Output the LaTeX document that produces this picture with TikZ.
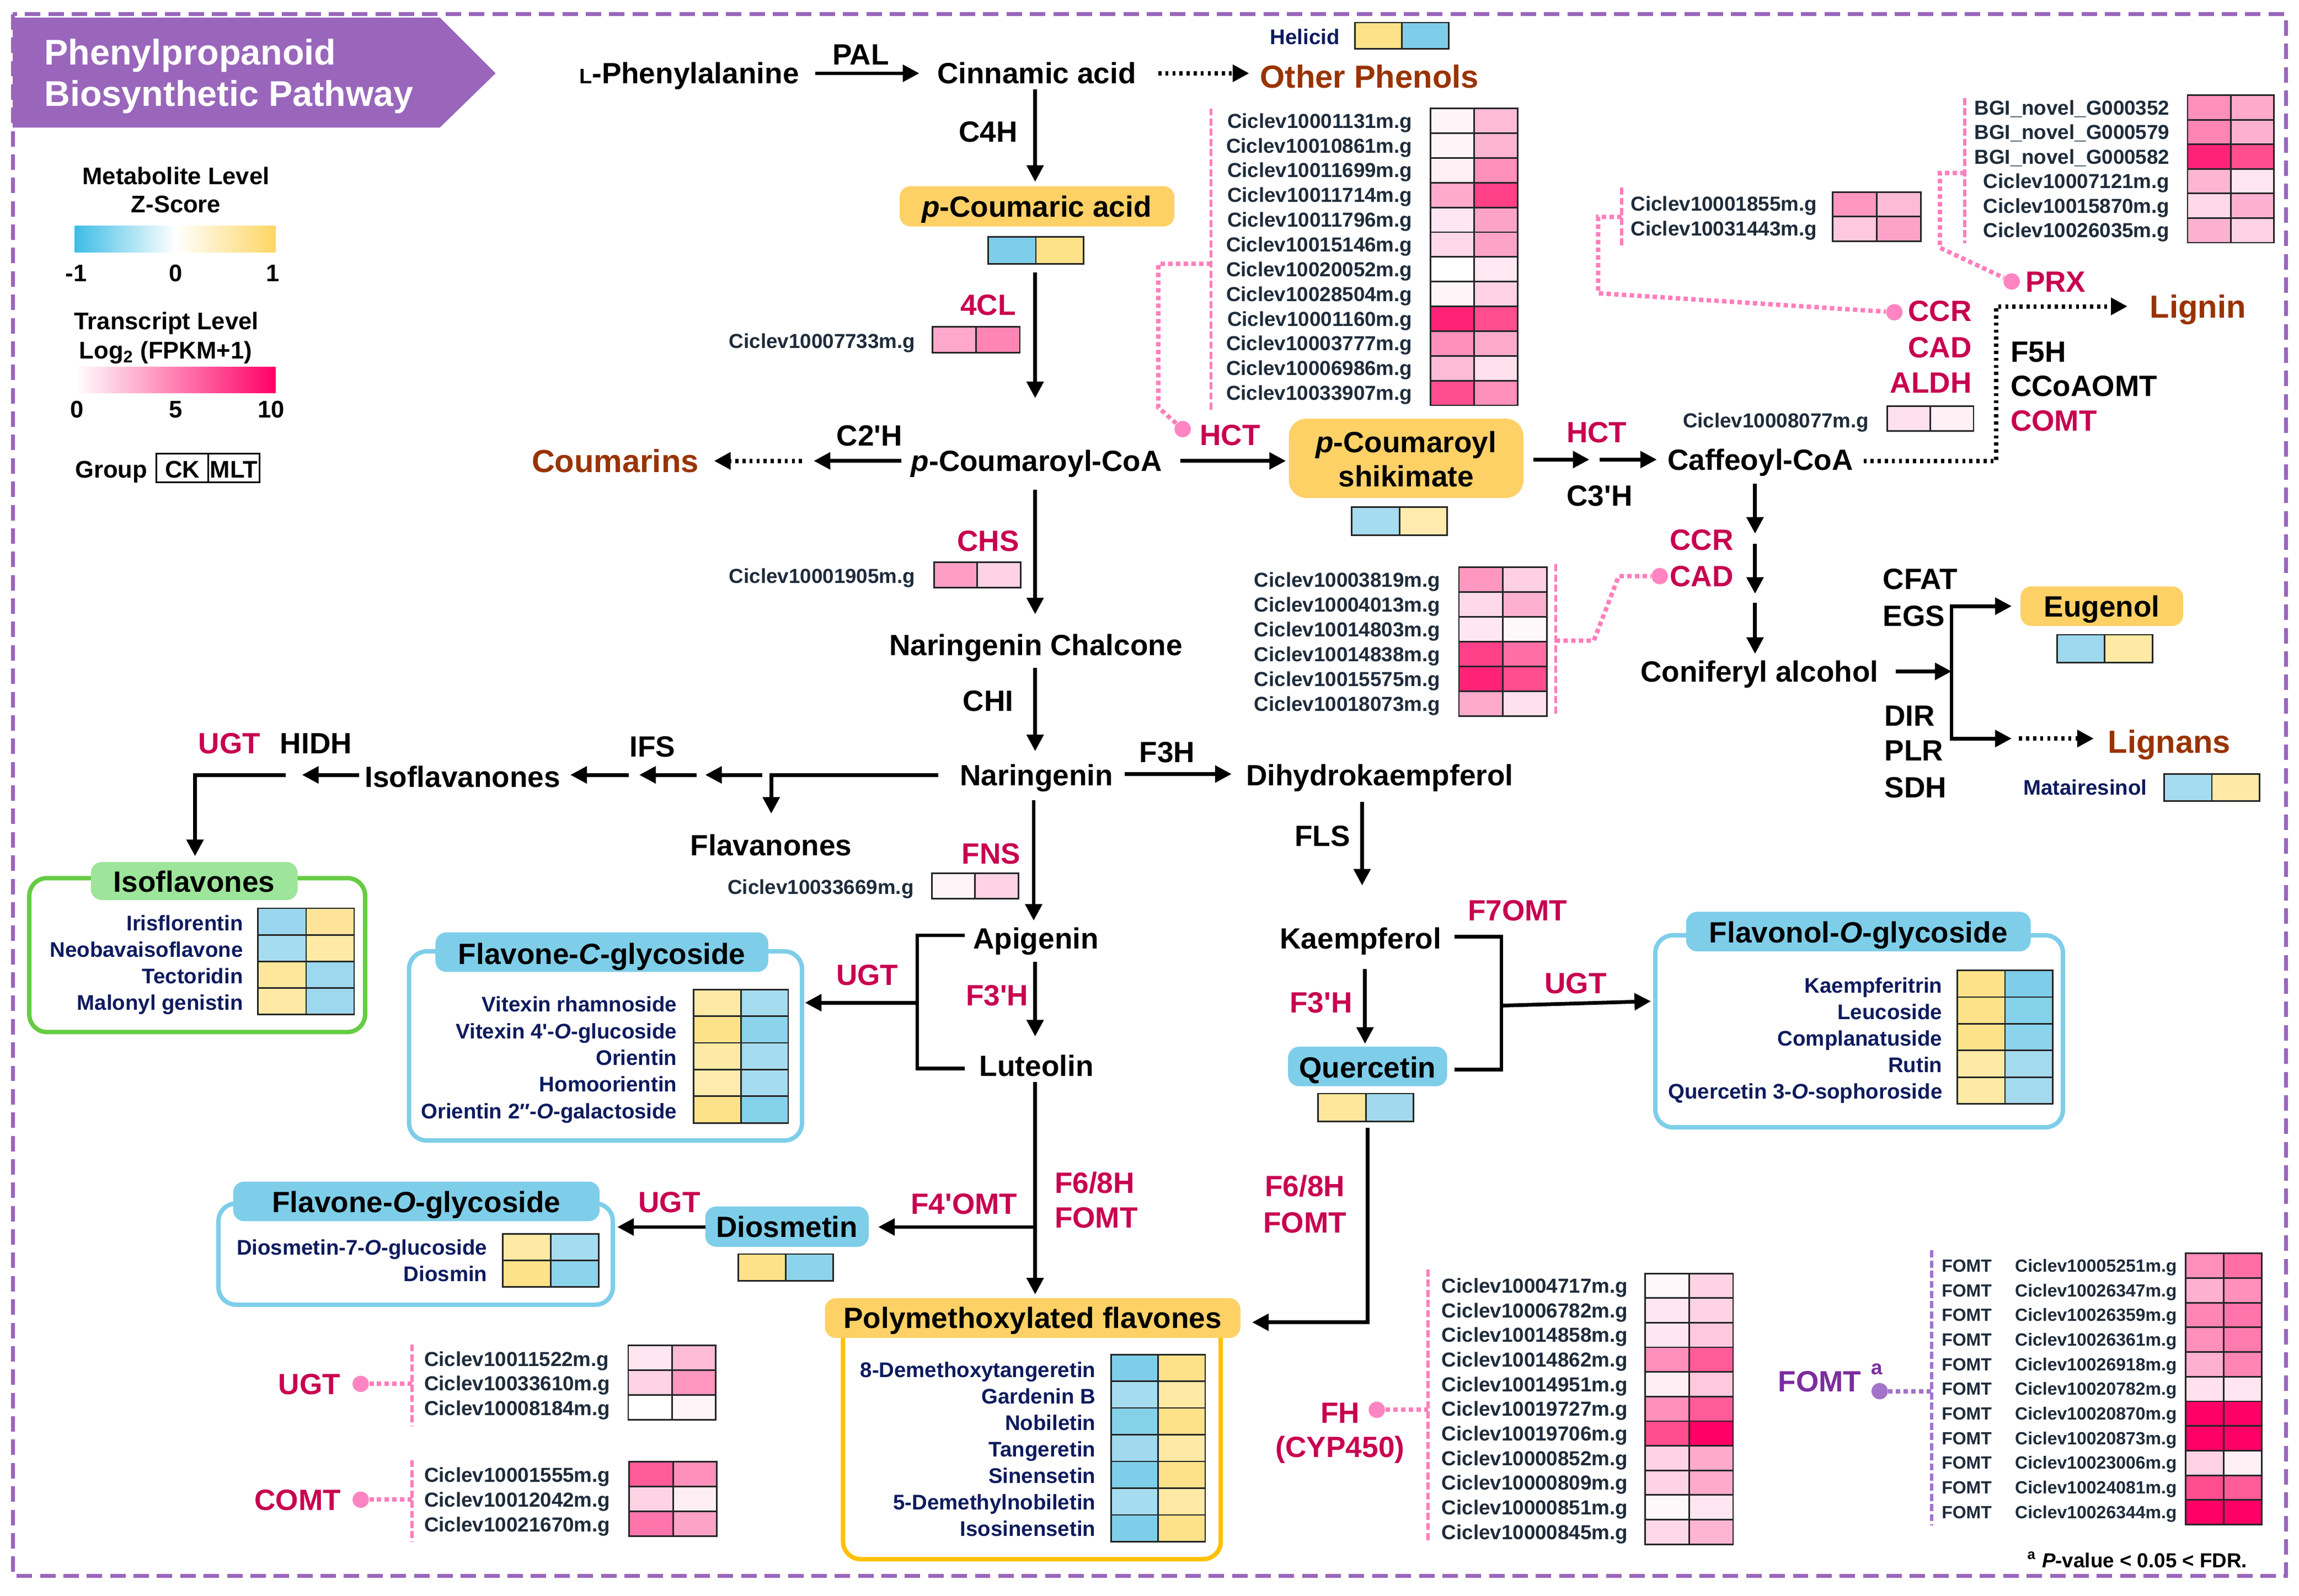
\documentclass[tikz,border=0pt]{standalone}
\usepackage{fontspec}
\setmainfont{Liberation Sans}
\usetikzlibrary{arrows.meta}
\definecolor{purp}{HTML}{9966BB}
\definecolor{redc}{HTML}{C80050}
\definecolor{brownc}{HTML}{993300}
\definecolor{navyc}{HTML}{0D1B5E}
\definecolor{genec}{HTML}{1E2B3A}
\definecolor{pinkc}{HTML}{FF7EBC}
\definecolor{pinkdot}{HTML}{FF85C2}
\definecolor{fompurp}{HTML}{7B2C9F}
\definecolor{fomdot}{HTML}{A373C9}
\definecolor{ybox}{HTML}{FDD166}
\definecolor{bbox}{HTML}{7ECEE9}
\definecolor{gtab}{HTML}{9DE59A}
\definecolor{gline}{HTML}{66CC44}
\definecolor{oline}{HTML}{FFC000}
\definecolor{zblue}{HTML}{3DBDE6}
\definecolor{zyel}{HTML}{FDD663}
\definecolor{tpink}{HTML}{FF0066}
\newcommand\fcomp{\fontsize{13.3pt}{15pt}\selectfont\bfseries}
\newcommand\fgene{\fontsize{9.2pt}{11pt}\selectfont\bfseries}
\newcommand\fgenes{\fontsize{8pt}{10pt}\selectfont\bfseries}
\newcommand\fmet{\fontsize{9.6pt}{11pt}\selectfont\bfseries}
\newcommand\fprod{\fontsize{14.5pt}{17pt}\selectfont\bfseries}
\newcommand\ftitle{\fontsize{16.2pt}{19pt}\selectfont\bfseries}
\newcommand\fleg{\fontsize{10.9pt}{13pt}\selectfont\bfseries}
\newcommand\ap{\textquotesingle}
\newcommand\hmrow[6]{%
  \edef\hmnext{\noexpand\definecolor{hmA}{HTML}{#5}\noexpand\definecolor{hmB}{HTML}{#6}}\hmnext
  \filldraw[fill=hmA, cellb] (#1,#2) rectangle ++(#3,#4);
  \filldraw[fill=hmB, cellb] (#1+#3,#2) rectangle ++(#3,#4);}
\begin{document}
\begin{tikzpicture}[x=0.665pt,y=-0.665pt,
 comp/.style={font=\fcomp, inner sep=0pt, text height=9.5pt, text depth=0pt},
 enz/.style={comp},
 enzr/.style={comp, text=redc},
 prod/.style={font=\fprod, text=brownc, inner sep=0pt, text height=10.4pt, text depth=0pt},
 gene/.style={font=\fgene, text=genec, inner sep=0pt, text height=6.6pt, text depth=0pt},
 genes/.style={font=\fgenes, text=genec, inner sep=0pt, text height=5.7pt, text depth=0pt},
 met/.style={font=\fmet, text=navyc, inner sep=0pt, text height=6.9pt, text depth=0pt},
 leg/.style={font=\fleg, inner sep=0pt, text height=7.8pt, text depth=0pt},
 ttl/.style={font=\ftitle, text=white, inner sep=0pt, text height=11.6pt, text depth=0pt},
 arr/.style={line width=1.7pt, -{Triangle[length=7.5pt,width=7.5pt]}},
 barr/.style={line width=1.7pt, {Triangle[length=7.5pt,width=7.5pt]}-{Triangle[length=7.5pt,width=7.5pt]}},
 ln/.style={line width=1.7pt},
 darr/.style={line width=2pt, dash pattern=on 1.4pt off 1.8pt, -{Triangle[length=7.5pt,width=7.5pt]}},
 pdot/.style={draw=pinkc, line width=2pt, dash pattern=on 2pt off 1.5pt},
 pbr/.style={draw=pinkc, line width=1.4pt, dash pattern=on 3.2pt off 1.4pt},
 fdot/.style={draw=fomdot, line width=2pt, dash pattern=on 2pt off 1.5pt},
 fbr/.style={draw=fomdot, line width=1.4pt, dash pattern=on 3.2pt off 1.4pt},
 dotn/.style={circle, fill=pinkdot, inner sep=0pt, minimum size=7.4pt},
 cellb/.style={draw=black!85, line width=0.7pt},
 bord/.style={draw=purp, line width=1.7pt, dash pattern=on 7pt off 3.6pt},
 grp/.style={line width=2pt, rounded corners=8pt},
]
\useasboundingbox (0,0) rectangle (1568,1088.7);
\fill[white] (0,0) rectangle (1568,1088.7);
% border and title
\draw[bord] (8.7,9.7) rectangle (1559,1075);
\fill[purp] (8.7,12) -- (300,12) -- (338,50) -- (300,87) -- (8.7,87) -- cycle;
\node[ttl, anchor=west] (t1) at (30,35.6) {Phenylpropanoid};
\node[ttl, anchor=west] (t2) at (30,63.8) {Biosynthetic Pathway};
% legend
\node[leg] (lm1) at (120,120) {Metabolite Level};
\node[leg] (lm2) at (120,139) {Z-Score};
\shade[left color=zblue, right color=zyel, middle color=white] (51,154) rectangle (188,172);
\node[leg] (lz1) at (52,186) {-1};
\node[leg] (lz2) at (120,186) {0};
\node[leg] (lz3) at (186,186) {1};
\node[leg] (lt1) at (113.5,219) {Transcript Level};
\node[leg] (lt2) at (113,239) {Log\textsubscript{2} (FPKM+1)};
\shade[left color=white, right color=tpink] (51,250.5) rectangle (188,268);
\node[leg] (lp1) at (52.6,279) {0};
\node[leg] (lp2) at (120,279) {5};
\node[leg] (lp3) at (185,279) {10};
\node[leg, anchor=west] (lg) at (51,320) {Group};
\draw[line width=0.8pt] (106.5,309.5) rectangle (177,329);
\draw[line width=0.8pt] (142,309.5) -- (142,329);
\node[leg] (ck) at (124.5,320) {CK};
\node[leg] (mlt) at (159.5,320) {MLT};

% ===== top row
\node[comp] (phe) at (470,50) {{\fontsize{9.5pt}{11pt}\selectfont L}-Phenylalanine};
\node[comp] (cin) at (707,50) {Cinnamic acid};
\node[enz] (pal) at (587,37) {PAL};
\coordinate (a1s) at (556,50); \coordinate (a1e) at (627,50);
\draw[arr] (a1s) -- (a1e);
\coordinate (a2s) at (790,50); \coordinate (a2e) at (852,50);
\draw[darr] (a2s) -- (a2e);
\node[prod] (oph) at (934,52) {Other Phenols};
\node[met] (heli) at (890,25) {Helicid};
\hmrow{924}{15.4}{32}{18}{FEE28A}{7ECEE9}
% C4H
\node[enz] (c4h) at (674,89.6) {C4H};
\coordinate (a3s) at (706,61); \coordinate (a3e) at (706,124);
\draw[arr] (a3s) -- (a3e);
\fill[ybox, rounded corners=5pt] (613.6,127) rectangle (801,154.5);
\node[comp] (pca) at (707,141) {\textit{p}-Coumaric acid};
\hmrow{674}{161.6}{32.5}{18.4}{7ECEE9}{FEE28A}
% 4CL
\node[enzr] (e4cl) at (674,208) {4CL};
\coordinate (a4s) at (706,186); \coordinate (a4e) at (706,271.6);
\draw[arr] (a4s) -- (a4e);
\node[gene, anchor=east] (g7733) at (624.5,232.6) {Ciclev10007733m.g};
\hmrow{636}{223}{29.8}{17.5}{FFA8CC}{FF85B5}
% p-Coumaroyl-CoA
\node[comp] (pcc) at (707,314.4) {\textit{p}-Coumaroyl-CoA};
\node[enz] (c2h) at (593,297) {C2\ap{}H};
\coordinate (a5s) at (614.6,314.4); \coordinate (a5e) at (555,314.4);
\draw[arr] (a5s) -- (a5e);
\coordinate (a6s) at (547,314.4); \coordinate (a6e) at (487,314.4);
\draw[darr] (a6s) -- (a6e);
\node[prod] (coum) at (419.6,314.4) {Coumarins};
% HCT to shikimate
\coordinate (a7s) at (805,314.4); \coordinate (a7e) at (877,314.4);
\draw[arr] (a7s) -- (a7e);
\node[enzr] (hct1) at (839,296.5) {HCT};
\node[dotn] (dhct) at (806.6,292.7) {};
\coordinate (hb1) at (790,278); \coordinate (hb2) at (790,180); \coordinate (hb3) at (826,180);
\draw[pdot] (dhct) -- (hb1) -- (hb2) -- (hb3);
\draw[pbr] (826,74) -- (826,280);
\foreach \gn/\a/\b [count=\i from 0] in {10001131/FFF5F8/FDBBD6, 10010861/FFF5F8/FDB5D2, 10011699/FFF0F5/FF8FBB, 10011714/FDAACB/FF3F87, 10011796/FFE6F0/FDA3C7, 10015146/FFD9E8/FDA3C7, 10020052/FFFFFF/FFE8F1, 10028504/FFF5F8/FFD2E4, 10001160/FF2277/FF4D8E, 10003777/FF8FBB/FDAACB, 10006986/FDBBD6/FFE0EC, 10033907/FF4D8E/FF8FBB}{
  \node[gene, anchor=east] (hctg\i) at (963.5,82.4+\i*16.875) {Ciclev\gn m.g};
  \hmrow{975.6}{74+\i*16.875}{29.7}{16.875}{\a}{\b}
}
\fill[ybox, rounded corners=8pt] (879,285.6) rectangle (1039,339.7);
\node[comp] (shk1) at (959,301.5) {\textit{p}-Coumaroyl};
\node[comp] (shk2) at (959,325) {shikimate};
\hmrow{922}{346}{32.5}{19}{A6DCEF}{FEEBAD}
% HCT / C3'H to caffeoyl
\coordinate (a8s) at (1046,313.5); \coordinate (a8e) at (1084,313.5);
\draw[arr] (a8s) -- (a8e);
\coordinate (a9s) at (1091,313.5); \coordinate (a9e) at (1130,313.5);
\draw[arr] (a9s) -- (a9e);
\node[enzr] (hct2) at (1089,294.6) {HCT};
\node[enz] (c3h) at (1091,338) {C3\ap{}H};
\node[comp] (caf) at (1200.6,313.5) {Caffeoyl-CoA};
% lignin branch
\coordinate (l1) at (1271,314.4); \coordinate (l2) at (1361.6,314.4); \coordinate (l3) at (1361.6,209); \coordinate (l4) at (1451,209);
\draw[darr] (l1) -- (l2) -- (l3) -- (l4);
\node[prod] (lign) at (1499,209) {Lignin};
\node[enzr, anchor=east] (ccr1) at (1345,212) {CCR};
\node[enzr, anchor=east] (cad1) at (1345,237) {CAD};
\node[enzr, anchor=east] (aldh) at (1345,261) {ALDH};
\node[gene, anchor=east] (g8077) at (1275,286.6) {Ciclev10008077m.g};
\hmrow{1287}{277}{29.5}{17}{FFE0EC}{FFF0F5}
\node[enz, anchor=west] (f5h) at (1371,240) {F5H};
\node[enz, anchor=west] (ccoa) at (1371,263) {CCoAOMT};
\node[enzr, anchor=west] (comt1) at (1371,287) {COMT};
\node[enzr] (prx) at (1402,192) {PRX};
\node[dotn] (dprx) at (1372,192) {};
\node[dotn] (dccr) at (1292,213) {};
% CCR genes
\draw[pbr] (1106,128) -- (1106,168);
\node[gene, anchor=west] (ccrg1) at (1112,139) {Ciclev10001855m.g};
\node[gene, anchor=west] (ccrg2) at (1112,156) {Ciclev10031443m.g};
\hmrow{1250}{131}{30}{16.75}{FF97C0}{FDBBD6}
\hmrow{1250}{147.75}{30}{16.75}{FFC8DD}{FDA3C7}
\coordinate (cb1) at (1106,148); \coordinate (cb2) at (1090,148); \coordinate (cb3) at (1090,200);
\draw[pdot] (cb1) -- (cb2) -- (cb3) -- (dccr);
% PRX genes
\draw[pbr] (1340,67) -- (1340,166);
\foreach \gn/\a/\b [count=\i from 0] in {BGI\_novel\_G000352/FF8FBB/FDAACB, BGI\_novel\_G000579/FF85B5/FDB0CF, BGI\_novel\_G000582/FF2277/FF4D8E, Ciclev10007121m.g/FDB5D2/FFE6F0, Ciclev10015870m.g/FFD9E8/FDB0CF, Ciclev10026035m.g/FDB0CF/FFD2E4}{
  \node[gene, anchor=east] (prxg\i) at (1480,73.4+\i*16.75) {\gn};
  \hmrow{1492}{65+\i*16.75}{29.5}{16.75}{\a}{\b}
}
\coordinate (pb1) at (1340,118); \coordinate (pb2) at (1323,118); \coordinate (pb3) at (1323,169);
\draw[pdot] (pb1) -- (pb2) -- (pb3) -- (dprx);
% caffeoyl down to coniferyl
\coordinate (b1s) at (1197,330); \coordinate (b1e) at (1197,364);
\coordinate (b2s) at (1197,371); \coordinate (b2e) at (1197,405);
\coordinate (b3s) at (1197,411); \coordinate (b3e) at (1197,446);
\draw[arr] (b1s) -- (b1e);
\draw[arr] (b2s) -- (b2e);
\draw[arr] (b3s) -- (b3e);
\node[enzr] (ccr2) at (1160.5,368) {CCR};
\node[enzr] (cad2) at (1160.5,393) {CAD};
\node[dotn] (dcad) at (1132,393) {};
\draw[pbr] (1061,385) -- (1061,488);
\coordinate (kb1) at (1061,437); \coordinate (kb2) at (1087,437); \coordinate (kb3) at (1104,393);
\draw[pdot] (kb1) -- (kb2) -- (kb3) -- (dcad);
\foreach \gn/\a/\b [count=\i from 0] in {10003819/FF97C0/FFD0E2, 10004013/FFD9E8/FDB0CF, 10014803/FFE6F0/FFF8FA, 10014838/FF3F87/FF6FA5, 10015575/FF2277/FF4D8E, 10018073/FDAACB/FFE0EC}{
  \node[gene, anchor=east] (cadg\i) at (982.6,395.5+\i*16.9) {Ciclev\gn m.g};
  \hmrow{995}{387+\i*16.9}{30}{16.9}{\a}{\b}
}
\node[comp] (conif) at (1200,458) {Coniferyl alcohol};
\coordinate (c1s) at (1293,458); \coordinate (c1e) at (1331,458);
\draw[arr] (c1s) -- (c1e);
\coordinate (e1) at (1372,413.5); \coordinate (e2) at (1331,413.5); \coordinate (e3) at (1331,503.8); \coordinate (e4) at (1372,503.8);
\draw[barr] (e1) -- (e2) -- (e3) -- (e4);
\node[enz, anchor=west] (cfat) at (1284,395) {CFAT};
\node[enz, anchor=west] (egs) at (1284,420) {EGS};
\node[enz, anchor=west] (dir) at (1285,488) {DIR};
\node[enz, anchor=west] (plr) at (1285,512) {PLR};
\node[enz, anchor=west] (sdh) at (1285,537) {SDH};
\fill[ybox, rounded corners=5pt] (1378,400) rectangle (1489,427);
\node[comp] (eug) at (1433.5,413.5) {Eugenol};
\hmrow{1403}{433}{32.5}{19}{9DD8EE}{FEE9A5}
\coordinate (d1s) at (1377,503.8); \coordinate (d1e) at (1428,503.8);
\draw[darr] (d1s) -- (d1e);
\node[prod] (lgn) at (1479.6,506) {Lignans};
\node[met, anchor=east] (mat) at (1464.6,537) {Matairesinol};
\hmrow{1476}{528}{32.5}{18.4}{A6DCEF}{FEE9A5}

% ===== CHS to naringenin
\coordinate (f1s) at (706,334); \coordinate (f1e) at (706,419);
\draw[arr] (f1s) -- (f1e);
\node[enzr] (chs) at (674,368.8) {CHS};
\node[gene, anchor=east] (g1905) at (624.5,392.8) {Ciclev10001905m.g};
\hmrow{637}{383.5}{29.5}{17.2}{FF9EC4}{FFD2E4}
\node[comp] (nchal) at (706.5,440) {Naringenin Chalcone};
\coordinate (f2s) at (706,455.6); \coordinate (f2e) at (706,512.4);
\draw[arr] (f2s) -- (f2e);
\node[enz] (chi) at (674,477.8) {CHI};
\node[comp] (nar) at (707,528.6) {Naringenin};
% F3H
\coordinate (f3s) at (767,528); \coordinate (f3e) at (840,528);
\draw[arr] (f3s) -- (f3e);
\node[enz] (f3h) at (796,513) {F3H};
\node[comp] (dhk) at (941,528.6) {Dihydrokaempferol};
\coordinate (f4s) at (929,547); \coordinate (f4e) at (929,604);
\draw[arr] (f4s) -- (f4e);
\node[enz] (fls) at (902,570) {FLS};
\node[comp] (kae) at (928,640) {Kaempferol};
\coordinate (f5s) at (931,661); \coordinate (f5e) at (931,712);
\draw[arr] (f5s) -- (f5e);
\node[enzr] (f3ph2) at (901,683.6) {F3\ap{}H};
\fill[bbox, rounded corners=5pt] (878.5,714) rectangle (987,741);
\node[comp] (que) at (932.7,728) {Quercetin};
\hmrow{899}{746}{32.5}{19}{FEE69A}{A1D9EE}
\coordinate (k1) at (992,639); \coordinate (k2) at (1024,639); \coordinate (k3) at (1024,729.5); \coordinate (k4) at (992,729.5);
\draw[ln] (k1) -- (k2) -- (k3) -- (k4);
\node[enzr] (f7omt) at (1035,621) {F7OMT};
\coordinate (k5) at (1024,686); \coordinate (k6) at (1126,683);
\draw[arr] (k5) -- (k6);
\node[enzr] (ugt3) at (1074.6,670.7) {UGT};
% Flavonol-O-glycoside
\draw[grp, draw=bbox] (1129,638) rectangle (1407,769);
\fill[bbox, rounded corners=5pt] (1150,622) rectangle (1385,649);
\node[comp] (flvo) at (1267.5,636) {Flavonol-\textit{O}-glycoside};
\foreach \nm/\a/\b [count=\i from 0] in {Kaempferitrin/FEE28A/7ECEE9, Leucoside/FEE28A/86D1EA, Complanatuside/FEE28A/8CD3EC, Rutin/FEE9A5/A4DAEE, {Quercetin 3-\textit{O}-sophoroside}/FEE9A5/A4DAEE}{
  \node[met, anchor=east] (flvom\i) at (1325,672+\i*18.1) {\nm};
  \hmrow{1335}{662+\i*18.2}{32.5}{18.2}{\a}{\b}
}

% ===== left side: isoflavones
\coordinate (n1) at (640,528.6); \coordinate (n2) at (526,528.6); \coordinate (n3) at (526,555);
\draw[arr] (n1) -- (n2) -- (n3);
\coordinate (i1s) at (520,528.6); \coordinate (i1e) at (481,528.6);
\coordinate (i2s) at (475,528.6); \coordinate (i2e) at (436,528.6);
\coordinate (i3s) at (429,528.6); \coordinate (i3e) at (389,528.6);
\draw[arr] (i1s) -- (i1e);
\draw[arr] (i2s) -- (i2e);
\draw[arr] (i3s) -- (i3e);
\node[enz] (ifs) at (445,509) {IFS};
\node[comp] (flvn) at (526,576.7) {Flavanones};
\node[comp] (isfn) at (315.5,529.7) {Isoflavanones};
\coordinate (i4s) at (245,528.6); \coordinate (i4e) at (206,528.6);
\draw[arr] (i4s) -- (i4e);
\coordinate (i5) at (195,528.6); \coordinate (i6) at (133,528.6); \coordinate (i7) at (133,584);
\draw[arr] (i5) -- (i6) -- (i7);
\node[enzr] (ugt1) at (156.5,507) {UGT};
\node[enz] (hidh) at (215.5,507) {HIDH};
\draw[grp, draw=gline] (20,599) rectangle (249,704);
\fill[gtab, rounded corners=5pt] (62,588) rectangle (203,614);
\node[comp] (isfv) at (132.5,601.5) {Isoflavones};
\foreach \nm/\a/\b [count=\i from 0] in {Irisflorentin/9AD6ED/FDE49A, Neobavaisoflavone/A6DCEF/FEE9A5, Tectoridin/FEE69A/9DD8EE, {Malonyl genistin}/FEE9A5/9DD8EE}{
  \node[met, anchor=east] (isfm\i) at (166,629.5+\i*18.05) {\nm};
  \hmrow{176}{619.6+\i*18.1}{32.75}{18.1}{\a}{\b}
}
% FNS / apigenin
\coordinate (g1s) at (705,546); \coordinate (g1e) at (705,628);
\draw[arr] (g1s) -- (g1e);
\node[enzr] (fns) at (676,582) {FNS};
\node[gene, anchor=east] (g33669) at (623.5,605) {Ciclev10033669m.g};
\hmrow{635.5}{595.6}{29.5}{17.4}{FFF5F8}{FFD2E4}
\node[comp] (api) at (706.5,640) {Apigenin};
\coordinate (g2s) at (706,656); \coordinate (g2e) at (706,707);
\draw[arr] (g2s) -- (g2e);
\node[enzr] (f3ph1) at (680,678.7) {F3\ap{}H};
\node[comp] (lut) at (707,727) {Luteolin};
\coordinate (p1) at (658,638); \coordinate (p2) at (625.6,638); \coordinate (p3) at (625.6,729); \coordinate (p4) at (658,729);
\draw[ln] (p1) -- (p2) -- (p3) -- (p4);
\coordinate (p5) at (625.6,684); \coordinate (p6) at (549,684);
\draw[arr] (p5) -- (p6);
\node[enzr] (ugt2) at (591.5,665) {UGT};
% Flavone-C-glycoside
\draw[grp, draw=bbox] (279,649) rectangle (547,778);
\fill[bbox, rounded corners=5pt] (297,636) rectangle (524,663);
\node[comp] (flvc) at (410.5,650.5) {Flavone-\textit{C}-glycoside};
\foreach \nm/\a/\b [count=\i from 0] in {{Vitexin rhamnoside}/FEE9A5/A6DCEF, {Vitexin 4\ap-\textit{O}-glucoside}/FEE28A/8CD3EC, Orientin/FEE9A5/A6DCEF, Homoorientin/FEEBAD/A6DCEF, {Orientin 2″-\textit{O}-galactoside}/FEE28A/86D1EA}{
  \node[met, anchor=east] (flvcm\i) at (462,685+\i*18.2) {\nm};
  \hmrow{473}{675+\i*18.2}{32.3}{18.2}{\a}{\b}
}
% luteolin to PMF
\coordinate (h1s) at (706,738); \coordinate (h1e) at (706,883);
\draw[arr] (h1s) -- (h1e);
\coordinate (h2s) at (706,837); \coordinate (h2e) at (599,837);
\draw[arr] (h2s) -- (h2e);
\node[enzr] (f4omt) at (657.5,821) {F4\ap{}OMT};
\node[enzr, anchor=west] (f68a) at (719,806.6) {F6/8H};
\node[enzr, anchor=west] (fomta) at (719,830.6) {FOMT};
\fill[bbox, rounded corners=5pt] (481,823) rectangle (592.5,850.5);
\node[comp] (dios) at (536.7,837) {Diosmetin};
\hmrow{503.5}{855.5}{32.3}{18.1}{FEE28A}{8CD3EC}
\coordinate (h3s) at (481,837); \coordinate (h3e) at (421,837);
\draw[arr] (h3s) -- (h3e);
\node[enzr] (ugt4) at (456.5,820) {UGT};
% Flavone-O-glycoside
\draw[grp, draw=bbox] (149,821) rectangle (418,890);
\fill[bbox, rounded corners=5pt] (159,806) rectangle (409,833);
\node[comp] (flvog) at (284,820) {Flavone-\textit{O}-glycoside};
\node[met, anchor=east] (fog1) at (332.6,851) {Diosmetin-7-\textit{O}-glucoside};
\node[met, anchor=east] (fog2) at (332.6,869) {Diosmin};
\hmrow{343}{841.6}{32.75}{18.2}{FEE9A5}{A6DCEF}
\hmrow{343}{859.8}{32.75}{18.2}{FEE28A}{8CD3EC}
% quercetin to PMF
\coordinate (q1) at (932.7,769.5); \coordinate (q2) at (932.7,902); \coordinate (q3) at (854,902);
\draw[arr] (q1) -- (q2) -- (q3);
\node[enzr] (f68b) at (890,809) {F6/8H};
\node[enzr] (fomtb) at (890,834) {FOMT};
% Polymethoxylated flavones
\draw[grp, draw=oline] (575,900) rectangle (832.6,1063.6);
\fill[ybox, rounded corners=5pt] (562.6,885.6) rectangle (846,912.7);
\node[comp] (pmf) at (704.3,899) {Polymethoxylated flavones};
\foreach \nm/\a/\b [count=\i from 0] in {8-Demethoxytangeretin/7ECEE9/FEE28A, {Gardenin B}/A6DCEF/FEE9A5, Nobiletin/86D1EA/FEE28A, Tangeretin/A1D9EE/FEE9A5, Sinensetin/7ECEE9/FEE28A, 5-Demethylnobiletin/A6DCEF/FEE9A5, Isosinensetin/7ECEE9/FEE28A}{
  \node[met, anchor=east] (pmfm\i) at (747.5,934.4+\i*18.05) {\nm};
  \hmrow{757.7}{924+\i*18.23}{32.15}{18.23}{\a}{\b}
}
% FH list
\node[enzr] (fh) at (914,963.6) {FH};
\node[enzr] (cyp) at (914,986.9) {(CYP450)};
\node[dotn] (dfh) at (939,961.7) {};
\coordinate (fhb) at (974,961.7);
\draw[pdot] (dfh) -- (fhb);
\draw[pbr] (974,866) -- (974,1052.6);
\foreach \gn/\a/\b [count=\i from 0] in {10004717/FFF8FA/FFD2E4, 10006782/FFE6F0/FFD2E4, 10014858/FFE6F0/FFC8DD, 10014862/FF8FBB/FF5B98, 10014951/FFEEF4/FFC8DD, 10019727/FF8FBB/FF5B98, 10019706/FF4D8E/FF0066, 10000852/FFD2E4/FDAACB, 10000809/FFD2E4/FDAACB, 10000851/FFF8FA/FFE6F0, 10000845/FFD9E8/FDB5D2}{
  \node[gene, anchor=west] (fhg\i) at (983,877.1+\i*16.79) {Ciclev\gn m.g};
  \hmrow{1122}{868.7+\i*16.79}{30}{16.79}{\a}{\b}
}
% bottom-left UGT list
\node[enzr] (ugt5) at (211,944) {UGT};
\node[dotn] (dugt) at (246,944) {};
\coordinate (ub) at (281,944);
\draw[pdot] (dugt) -- (ub);
\draw[pbr] (281,917) -- (281,972.5);
\foreach \gn/\a/\b [count=\i from 0] in {10011522/FFE6F0/FDBBD6, 10033610/FFD2E4/FF97C0, 10008184/FFFFFF/FFF5F8}{
  \node[gene, anchor=west] (ugtg\i) at (289,927+\i*16.8) {Ciclev\gn m.g};
  \hmrow{428.5}{917.7+\i*16.97}{29.75}{16.97}{\a}{\b}
}
% COMT list
\node[enzr] (comt2) at (203,1023) {COMT};
\node[dotn] (dcomt) at (246,1023) {};
\coordinate (cob) at (281,1023);
\draw[pdot] (dcomt) -- (cob);
\draw[pbr] (281,996) -- (281,1051.6);
\foreach \gn/\a/\b [count=\i from 0] in {10001555/FF5B98/FF8FBB, 10012042/FFD2E4/FFEEF4, 10021670/FF74AA/FDA3C7}{
  \node[gene, anchor=west] (comtg\i) at (289,1006+\i*17) {Ciclev\gn m.g};
  \hmrow{429}{997+\i*17}{30}{17}{\a}{\b}
}
% FOMT list
\node[comp, text=fompurp] (fomtc) at (1241,942) {FOMT};
\node[font=\fgene, text=fompurp, inner sep=0pt] (fsup) at (1280,934) {a};
\node[circle, fill=fomdot, inner sep=0pt, minimum size=7.4pt] (dfom) at (1282,949) {};
\coordinate (fob) at (1317.5,949);
\draw[fdot] (dfom) -- (fob);
\draw[fbr] (1317.5,853) -- (1317.5,1040.6);
\foreach \gn/\a/\b [count=\i from 0] in {10005251/FF8FBB/FF6FA5, 10026347/FDB0CF/FF8FBB, 10026359/FF85B5/FF74AA, 10026361/FF8FBB/FF7AAE, 10026918/FDB0CF/FF85B5, 10020782/FFE0EC/FFE6F0, 10020870/FF0066/FF0066, 10020873/FF0066/FF0066, 10023006/FFD2E4/FFF0F5, 10024081/FF4D8E/FF5B98, 10026344/FF0066/FF0066}{
  \node[genes, anchor=west] (fomr\i) at (1324,863.4+\i*16.8) {FOMT};
  \node[genes, anchor=west] (fomg\i) at (1374,863.4+\i*16.8) {Ciclev\gn m.g};
  \hmrow{1490.6}{855+\i*16.82}{25.95}{16.82}{\a}{\b}
}
\node[font=\fgene, inner sep=0pt, anchor=east] (fnote) at (1533,1064) {\textsuperscript{a} \textit{P}-value < 0.05 < FDR.};
\end{tikzpicture}
\end{document}
